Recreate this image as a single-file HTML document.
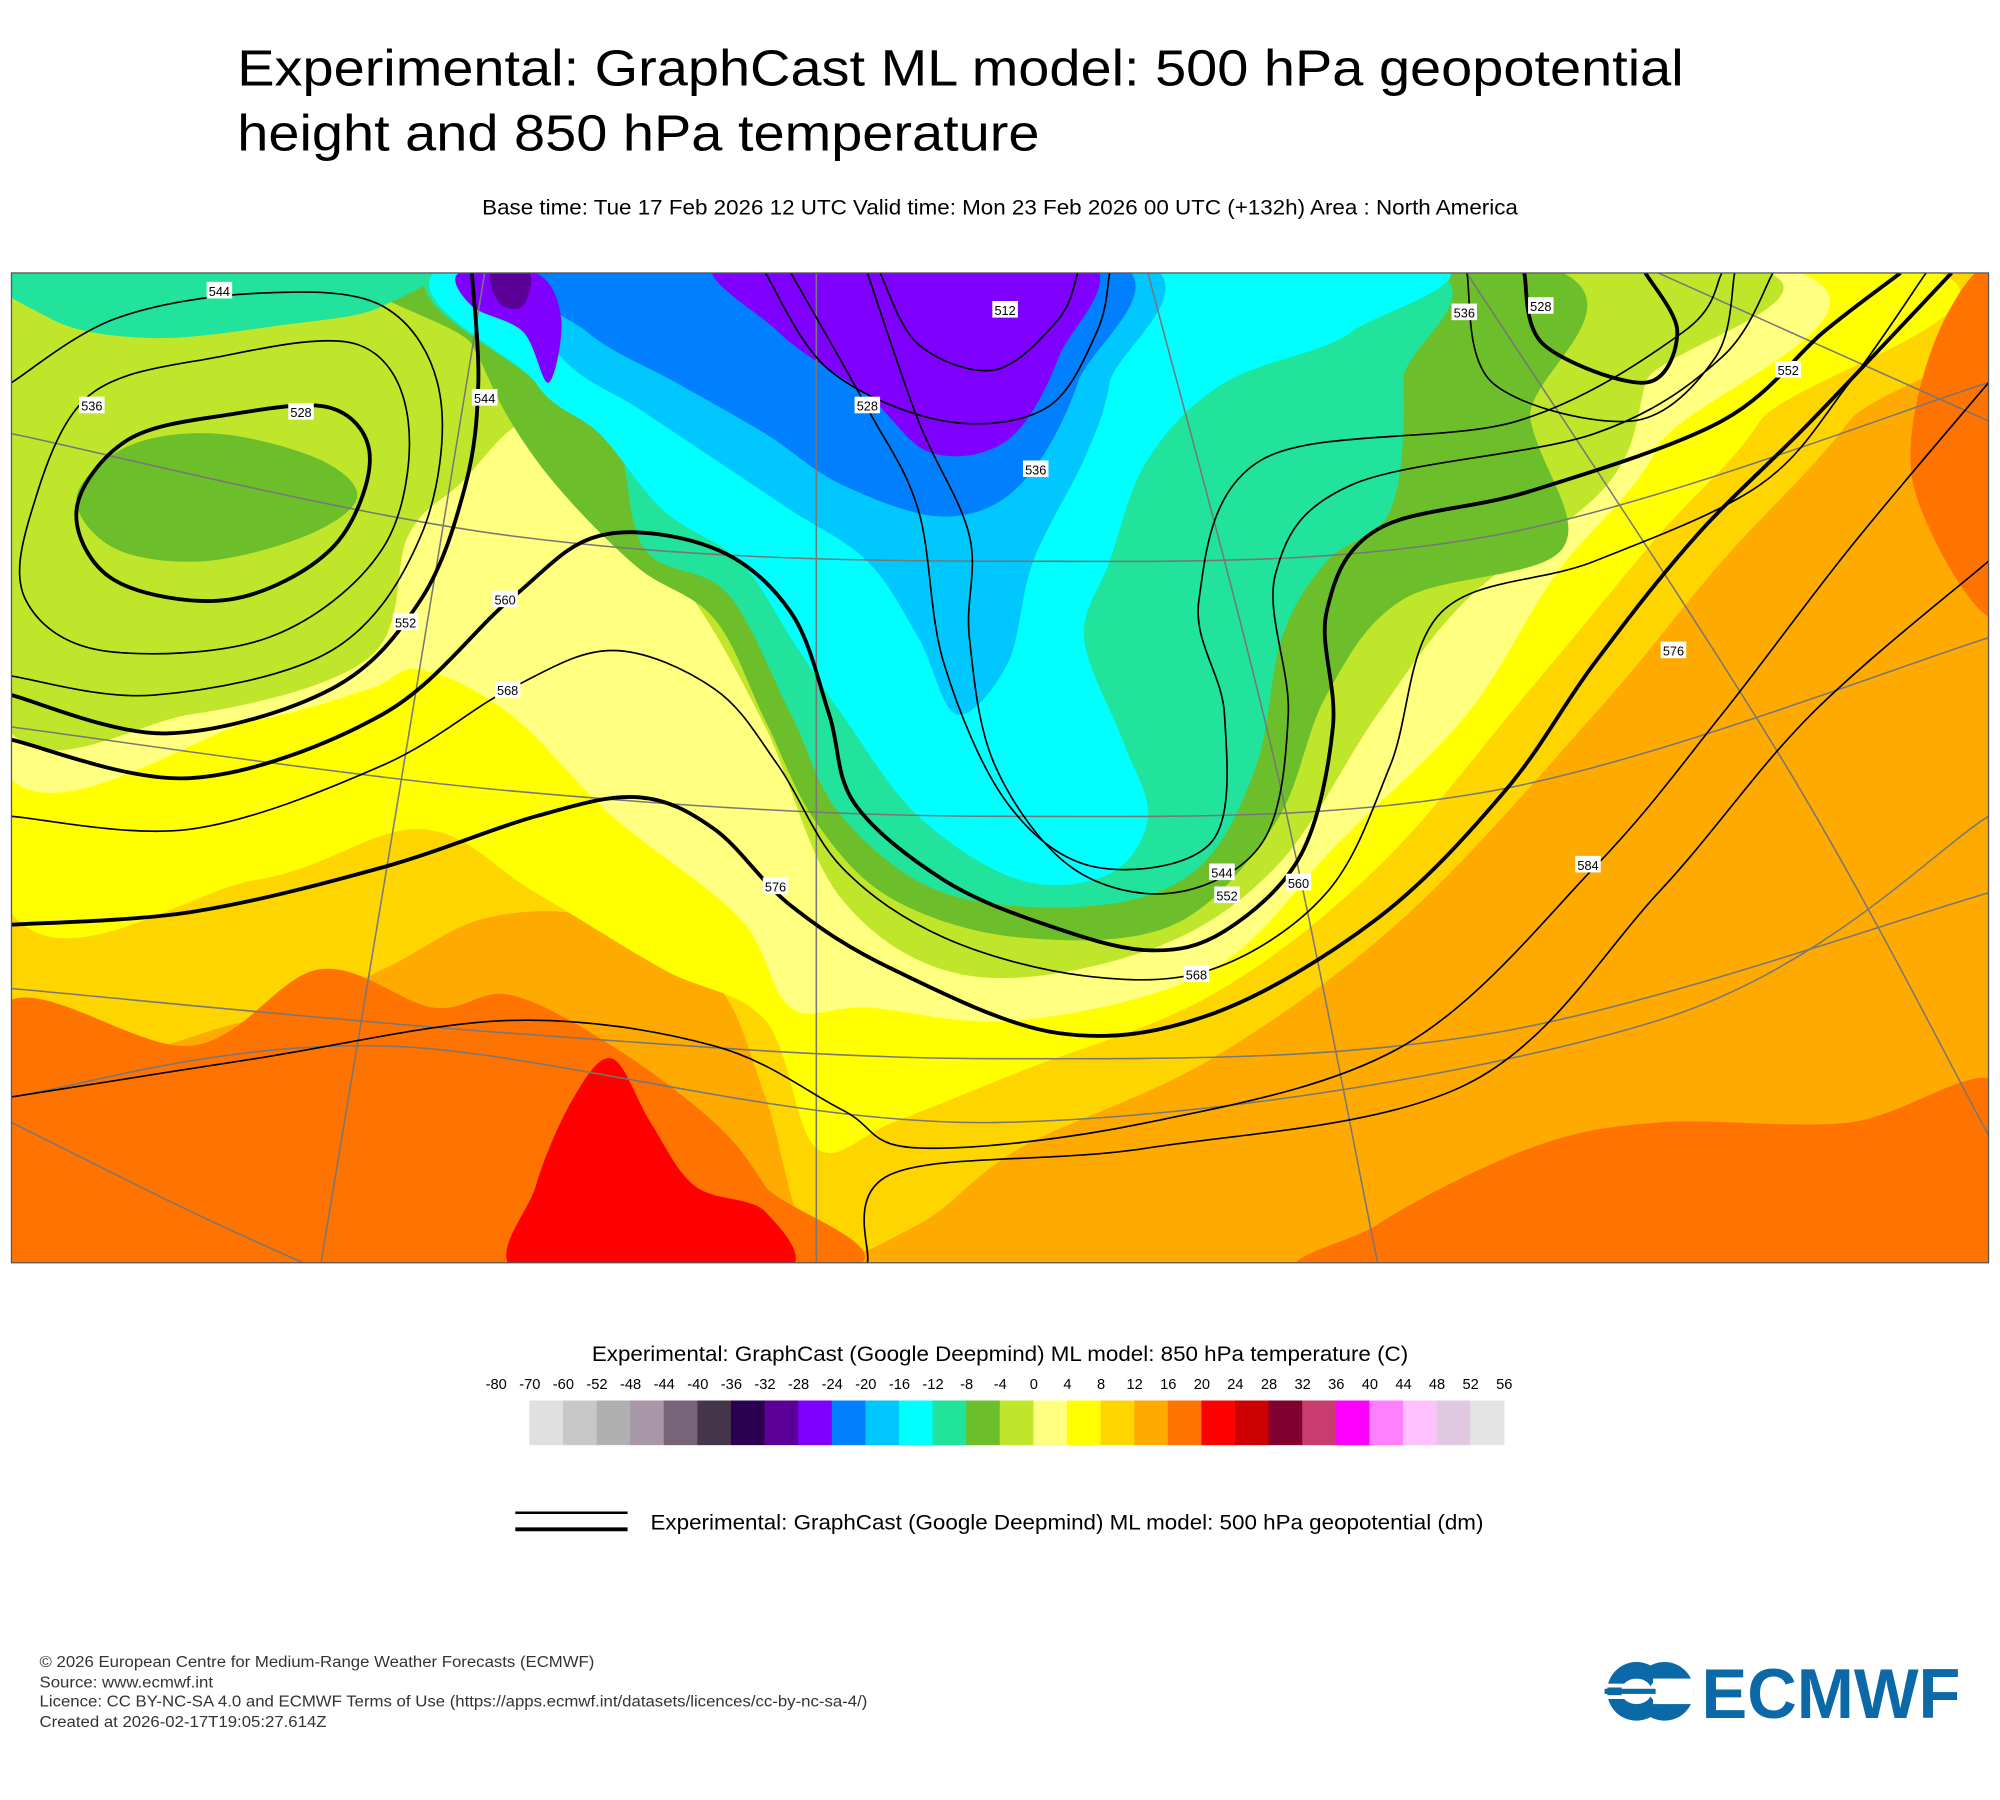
<!DOCTYPE html>
<html><head><meta charset="utf-8"><style>
html,body{margin:0;padding:0;background:#fff;}
svg{display:block;font-family:"Liberation Sans",sans-serif;}
</style></head><body>
<svg id="pg" width="2000" height="1800" viewBox="0 0 2000 1800">
<g transform="scale(1.27551)">
<text x="186" y="67" font-size="40" fill="#000" textLength="1134" lengthAdjust="spacingAndGlyphs">Experimental: GraphCast ML model: 500 hPa geopotential</text>
<text x="186" y="118" font-size="40" fill="#000" textLength="629" lengthAdjust="spacingAndGlyphs">height and 850 hPa temperature</text>
<text x="378" y="168" font-size="16.5" textLength="812" lengthAdjust="spacingAndGlyphs" fill="#000">Base time: Tue 17 Feb 2026 12 UTC Valid time: Mon 23 Feb 2026 00 UTC (+132h) Area : North America</text>
<defs><clipPath id="mc"><rect x="9" y="214" width="1550" height="776"/></clipPath></defs>
<g clip-path="url(#mc)" id="map">
<rect x="9" y="214" width="1550" height="776" fill="#ffaa00"/>
<g id="fills"></g>
<g id="grat" fill="none" stroke="#777" stroke-width="1.2"></g>
<g id="cont" fill="none" stroke="#000"></g>
<g id="labs" font-size="10" text-anchor="middle"></g>
</g>
<rect x="9" y="214" width="1550" height="776" fill="none" stroke="#555" stroke-width="1"/>
<text x="464" y="1067" font-size="16.5" textLength="640" lengthAdjust="spacingAndGlyphs">Experimental: GraphCast (Google Deepmind) ML model: 850 hPa temperature (C)</text>
<g id="cbar"></g>
<line x1="404" y1="1186" x2="492" y2="1186" stroke="#000" stroke-width="2"/>
<line x1="404" y1="1199" x2="492" y2="1199" stroke="#000" stroke-width="3"/>
<text x="510" y="1199" font-size="16.5" textLength="653" lengthAdjust="spacingAndGlyphs">Experimental: GraphCast (Google Deepmind) ML model: 500 hPa geopotential (dm)</text>
<g font-size="12.5" fill="#333">
<text x="31" y="1307" textLength="435" lengthAdjust="spacingAndGlyphs">© 2026 European Centre for Medium-Range Weather Forecasts (ECMWF)</text>
<text x="31" y="1323" textLength="136" lengthAdjust="spacingAndGlyphs">Source: www.ecmwf.int</text>
<text x="31" y="1338" textLength="649" lengthAdjust="spacingAndGlyphs">Licence: CC BY-NC-SA 4.0 and ECMWF Terms of Use (https://apps.ecmwf.int/datasets/licences/cc-by-nc-sa-4/)</text>
<text x="31" y="1354" textLength="225" lengthAdjust="spacingAndGlyphs">Created at 2026-02-17T19:05:27.614Z</text>
</g>
<g fill="#0a69a6">
<ellipse cx="1283" cy="1326" rx="23" ry="23"/>
<ellipse cx="1305" cy="1326" rx="23" ry="23"/>
<ellipse cx="1283" cy="1326" rx="12" ry="10" fill="#fff"/>
<ellipse cx="1305" cy="1326" rx="12" ry="10" fill="#fff"/>
<rect x="1296" y="1316" width="32" height="20" fill="#fff"/>
<rect x="1258" y="1324" width="40" height="4" fill="#0a69a6"/>
<rect x="1258" y="1320" width="28" height="3" fill="#fff"/>
<rect x="1258" y="1329" width="28" height="3" fill="#fff"/>
<text x="1334" y="1347" font-size="55" font-weight="bold" textLength="203" lengthAdjust="spacingAndGlyphs">ECMWF</text>
</g>
</g>
</svg>
<script>
const NS="http://www.w3.org/2000/svg";
function smooth(p,closed){
  let d="M"+p[0][0]+","+p[0][1];const n=p.length;
  for(let i=0;i<(closed?n:n-1);i++){
    const p0=p[(i-1+n)%n],p1=p[i],p2=p[(i+1)%n],p3=p[(i+2)%n];
    const a=closed||i>0?p0:p1,b=closed||i<n-2?p3:p2;
    d+=" C"+(p1[0]+(p2[0]-a[0])/6).toFixed(1)+","+(p1[1]+(p2[1]-a[1])/6).toFixed(1)+" "+(p2[0]-(b[0]-p1[0])/6).toFixed(1)+","+(p2[1]-(b[1]-p1[1])/6).toFixed(1)+" "+p2[0]+","+p2[1];
  }
  return d+(closed?"Z":"");
}
function add(parent,tag,attrs){const e=document.createElementNS(NS,tag);for(const k in attrs)e.setAttribute(k,attrs[k]);parent.appendChild(e);return e;}
const fills=document.getElementById('fills');
function region(name,color,pts){const e=add(fills,'path',{d:smooth(pts,true),fill:color});

}
region('gold-area','#ffd500',[[0,200],[1530,200],[1450,330],[1350,440],[1250,560],[1100,720],[950,830],[800,900],[720,960],[640,980],[600,860],[560,770],[470,720],[380,720],[300,760],[200,800],[0,780]]);
region('yellow-area','#ffff00',[[0,200],[1445,200],[1380,330],[1300,420],[1200,540],[1080,680],[950,780],[800,840],[700,880],[640,900],[600,800],[520,760],[420,700],[330,650],[200,690],[0,700]]);
region('light-yellow-area','#ffff80',[[0,200],[1345,200],[1300,350],[1220,450],[1150,560],[1050,660],[950,760],[800,800],[680,790],[620,790],[580,720],[480,640],[400,560],[330,525],[290,540],[200,565],[0,600]]);
region('lime-area','#c0e62c',[[0,200],[1305,200],[1290,300],[1260,380],[1150,470],[1080,560],[1000,680],[900,745],[760,765],[660,705],[600,570],[540,465],[480,405],[420,330],[360,380],[320,420],[290,515],[150,560],[0,560]]);
region('green-area','#6cbf2a',[[330,200],[1175,200],[1200,330],[1225,430],[1100,470],[1040,545],[1000,645],[920,725],[800,735],[700,705],[640,645],[600,565],[560,485],[500,445],[440,385],[400,330],[370,270]]);
region('green-low-west','#6cbf2a',[[60,390],[100,350],[170,340],[250,360],[280,390],[240,420],[160,440],[90,430]]);
region('teal-topleft','#22e39b',[[0,200],[330,200],[300,240],[220,255],[120,265],[40,250]]);
region('teal-area','#22e39b',[[375,200],[1080,200],[1100,300],[1090,400],[1040,440],[1005,500],[985,600],[940,680],[860,710],[740,700],[660,640],[620,560],[570,465],[505,430],[480,335],[420,300]]);
region('cyan-area','#00ffff',[[380,200],[1090,200],[1060,260],[960,300],[900,360],[870,440],[850,500],[880,580],[900,640],[870,685],[800,690],[720,640],[660,560],[620,500],[580,440],[520,400],[470,340],[420,300]]);
region('lightblue-area','#00c8ff',[[395,200],[880,200],[870,300],[850,360],[810,440],[790,520],[750,560],[720,500],[680,440],[620,400],[560,360],[500,320],[440,280]]);
region('blue-area','#0080ff',[[415,200],[860,200],[845,300],[800,380],[740,405],[660,380],[600,340],[530,300],[460,260]]);
region('violet-area','#7f00ff',[[570,200],[845,200],[830,280],[790,345],[730,355],[680,310],[610,260]]);
region('violet-patch','#7f00ff',[[360,214],[420,214],[440,250],[430,300],[410,260],[370,240]]);
region('purple-patch','#5a0096',[[385,214],[415,214],[410,240],[392,238]]);
region('darkorange-sw','#ff7300',[[0,790],[150,820],[250,760],[340,790],[400,780],[480,820],[560,880],[600,930],[640,1000],[0,1000]]);
region('darkorange-se','#ff7300',[[1050,1000],[1080,960],[1200,900],[1300,880],[1450,880],[1570,850],[1570,1000]]);
region('darkorange-ne','#ff7300',[[1520,260],[1570,220],[1570,480],[1500,380]]);
region('red-area','#ff0000',[[410,1000],[420,930],[450,860],[480,830],[510,880],[545,930],[600,950],[610,1000]]);
const grat=document.getElementById('grat');
[[[9,340],[400,420],[784,440],[1170,420],[1559,300]],[[9,570],[400,620],[784,640],[1170,620],[1559,500]],[[9,775],[400,810],[784,830],[1170,810],[1559,700]],[[9,860],[300,820],[784,880],[1300,800],[1559,640]],[[9,880],[150,950],[260,1000]]].forEach(p=>add(grat,'path',{d:smooth(p,false)}));
[[[380,214],[300,700],[250,1000]],[[640,214],[640,990]],[[900,214],[1000,600],[1080,990]],[[1150,214],[1400,600],[1559,890]],[[1300,214],[1559,330]]].forEach(p=>add(grat,'path',{d:smooth(p,false)}));
const cont=document.getElementById('cont');
function line(name,pts,w,closed){const e=add(cont,'path',{d:smooth(pts,closed),'stroke-width':w});

}
line('contour-528-west-low',[[60,400],[100,345],[180,325],[260,320],[290,360],[260,430],[180,470],[90,455]],3,true);
line('contour-536-west',[[25,400],[70,310],[170,280],[280,270],[320,330],[300,430],[210,500],[80,510],[20,470]],1.3,true);
line('contour-544-west',[[9,300],[90,250],[200,230],[300,240],[345,310],[330,420],[260,510],[120,545],[9,530]],1.3,false);
line('contour-552',[[9,545],[130,575],[260,540],[330,470],[365,380],[375,300],[370,214]],3,false);
line('contour-560-west',[[9,580],[150,610],[300,560],[400,470],[470,420],[560,430],[620,480],[650,560],[670,630],[740,690],[820,725],[900,745],[960,730],[1020,670],[1045,570],[1040,480],[1080,415],[1200,385],[1350,330],[1430,260],[1490,214]],3,false);
line('contour-568',[[9,640],[150,650],[300,600],[400,540],[480,510],[560,540],[610,600],[660,680],[740,735],[850,765],[950,760],[1040,700],[1090,600],[1130,480],[1250,440],[1380,380],[1450,300],[1510,214]],1.3,false);
line('contour-576',[[9,725],[150,715],[300,680],[420,640],[500,625],[560,650],[620,710],[700,760],[830,810],[950,795],[1080,720],[1180,620],[1250,520],[1330,420],[1420,330],[1530,214]],3,false);
line('contour-584',[[9,860],[200,830],[400,800],[560,820],[660,870],[720,900],[900,880],[1100,820],[1250,680],[1350,560],[1450,430],[1559,300]],1.3,false);
line('contour-588',[[680,990],[700,920],[900,900],[1150,850],[1300,700],[1420,560],[1559,440]],1.3,false);
line('contour-trough-inner-1',[[680,214],[720,330],[760,420],[760,500],[780,600],[840,680],[920,700],[990,660],[1010,560],[1000,450],[1060,380],[1250,340],[1350,280],[1390,214]],1.3,false);
line('contour-trough-inner-2',[[620,214],[680,320],[720,400],[740,520],[790,630],[860,680],[950,660],[960,560],[940,470],[990,360],[1190,330],[1320,260],[1350,214]],1.3,false);
line('contour-low-512',[[690,214],[720,270],[780,290],[830,250],[845,214]],1.3,false);
line('contour-low-520',[[600,214],[650,290],[740,330],[820,320],[860,260],[870,214]],1.3,false);
line('contour-528-ne',[[1195,214],[1210,270],[1290,300],[1315,260],[1290,214]],3,false);
line('contour-544-ne',[[1150,214],[1170,300],[1280,330],[1345,280],[1360,214]],1.3,false);
const labs=document.getElementById('labs');
const labelText=['544','536','528','544','552','560','568','576','512','528','536','544','552','560','568','584','576','552','536','528'];
const labelPos=[[172,228],[72,318],[236,323],[380,312],[318,488],[396,470],[398,541],[608,695],[788,243],[680,318],[812,368],[958,684],[962,702],[1018,692],[938,764],[1245,678],[1312,510],[1402,290],[1148,245],[1208,240]];
labelText.forEach((t,i)=>{const g=add(labs,'g',{});


add(g,'rect',{x:labelPos[i][0]-10,y:labelPos[i][1]-7,width:20,height:13,fill:'#fff'});
const tx=add(g,'text',{x:labelPos[i][0],y:labelPos[i][1]+4});tx.textContent=t;});
const cbLabels=['-80','-70','-60','-52','-48','-44','-40','-36','-32','-28','-24','-20','-16','-12','-8','-4','0','4','8','12','16','20','24','28','32','36','40','44','48','52','56'];
const cbColors=['#e0e0e0','#c8c8c8','#b0b0b0','#a897a8','#786478','#45354a','#2b0050','#5a0096','#7f00ff','#0080ff','#00c8ff','#00ffff','#22e39b','#6cbf2a','#c0e62c','#ffff80','#ffff00','#ffd500','#ffaa00','#ff7300','#ff0000','#cc0000','#800030','#c83c6e','#ff00ff','#ff80ff','#ffc0ff','#e0c8e0','#e4e4e4'];
const cb=document.getElementById('cbar');const step=26.345;
cbColors.forEach((c,j)=>{const r=add(cb,'rect',{x:(415+step*j).toFixed(2),y:1098,width:(step+0.5).toFixed(2),height:35,fill:c});

});
cbLabels.forEach((t,i)=>{const e=add(cb,'text',{x:(389+step*i).toFixed(2),y:1089,'font-size':11.5,'text-anchor':'middle'});e.textContent=t;

});
</script>
</body></html>
